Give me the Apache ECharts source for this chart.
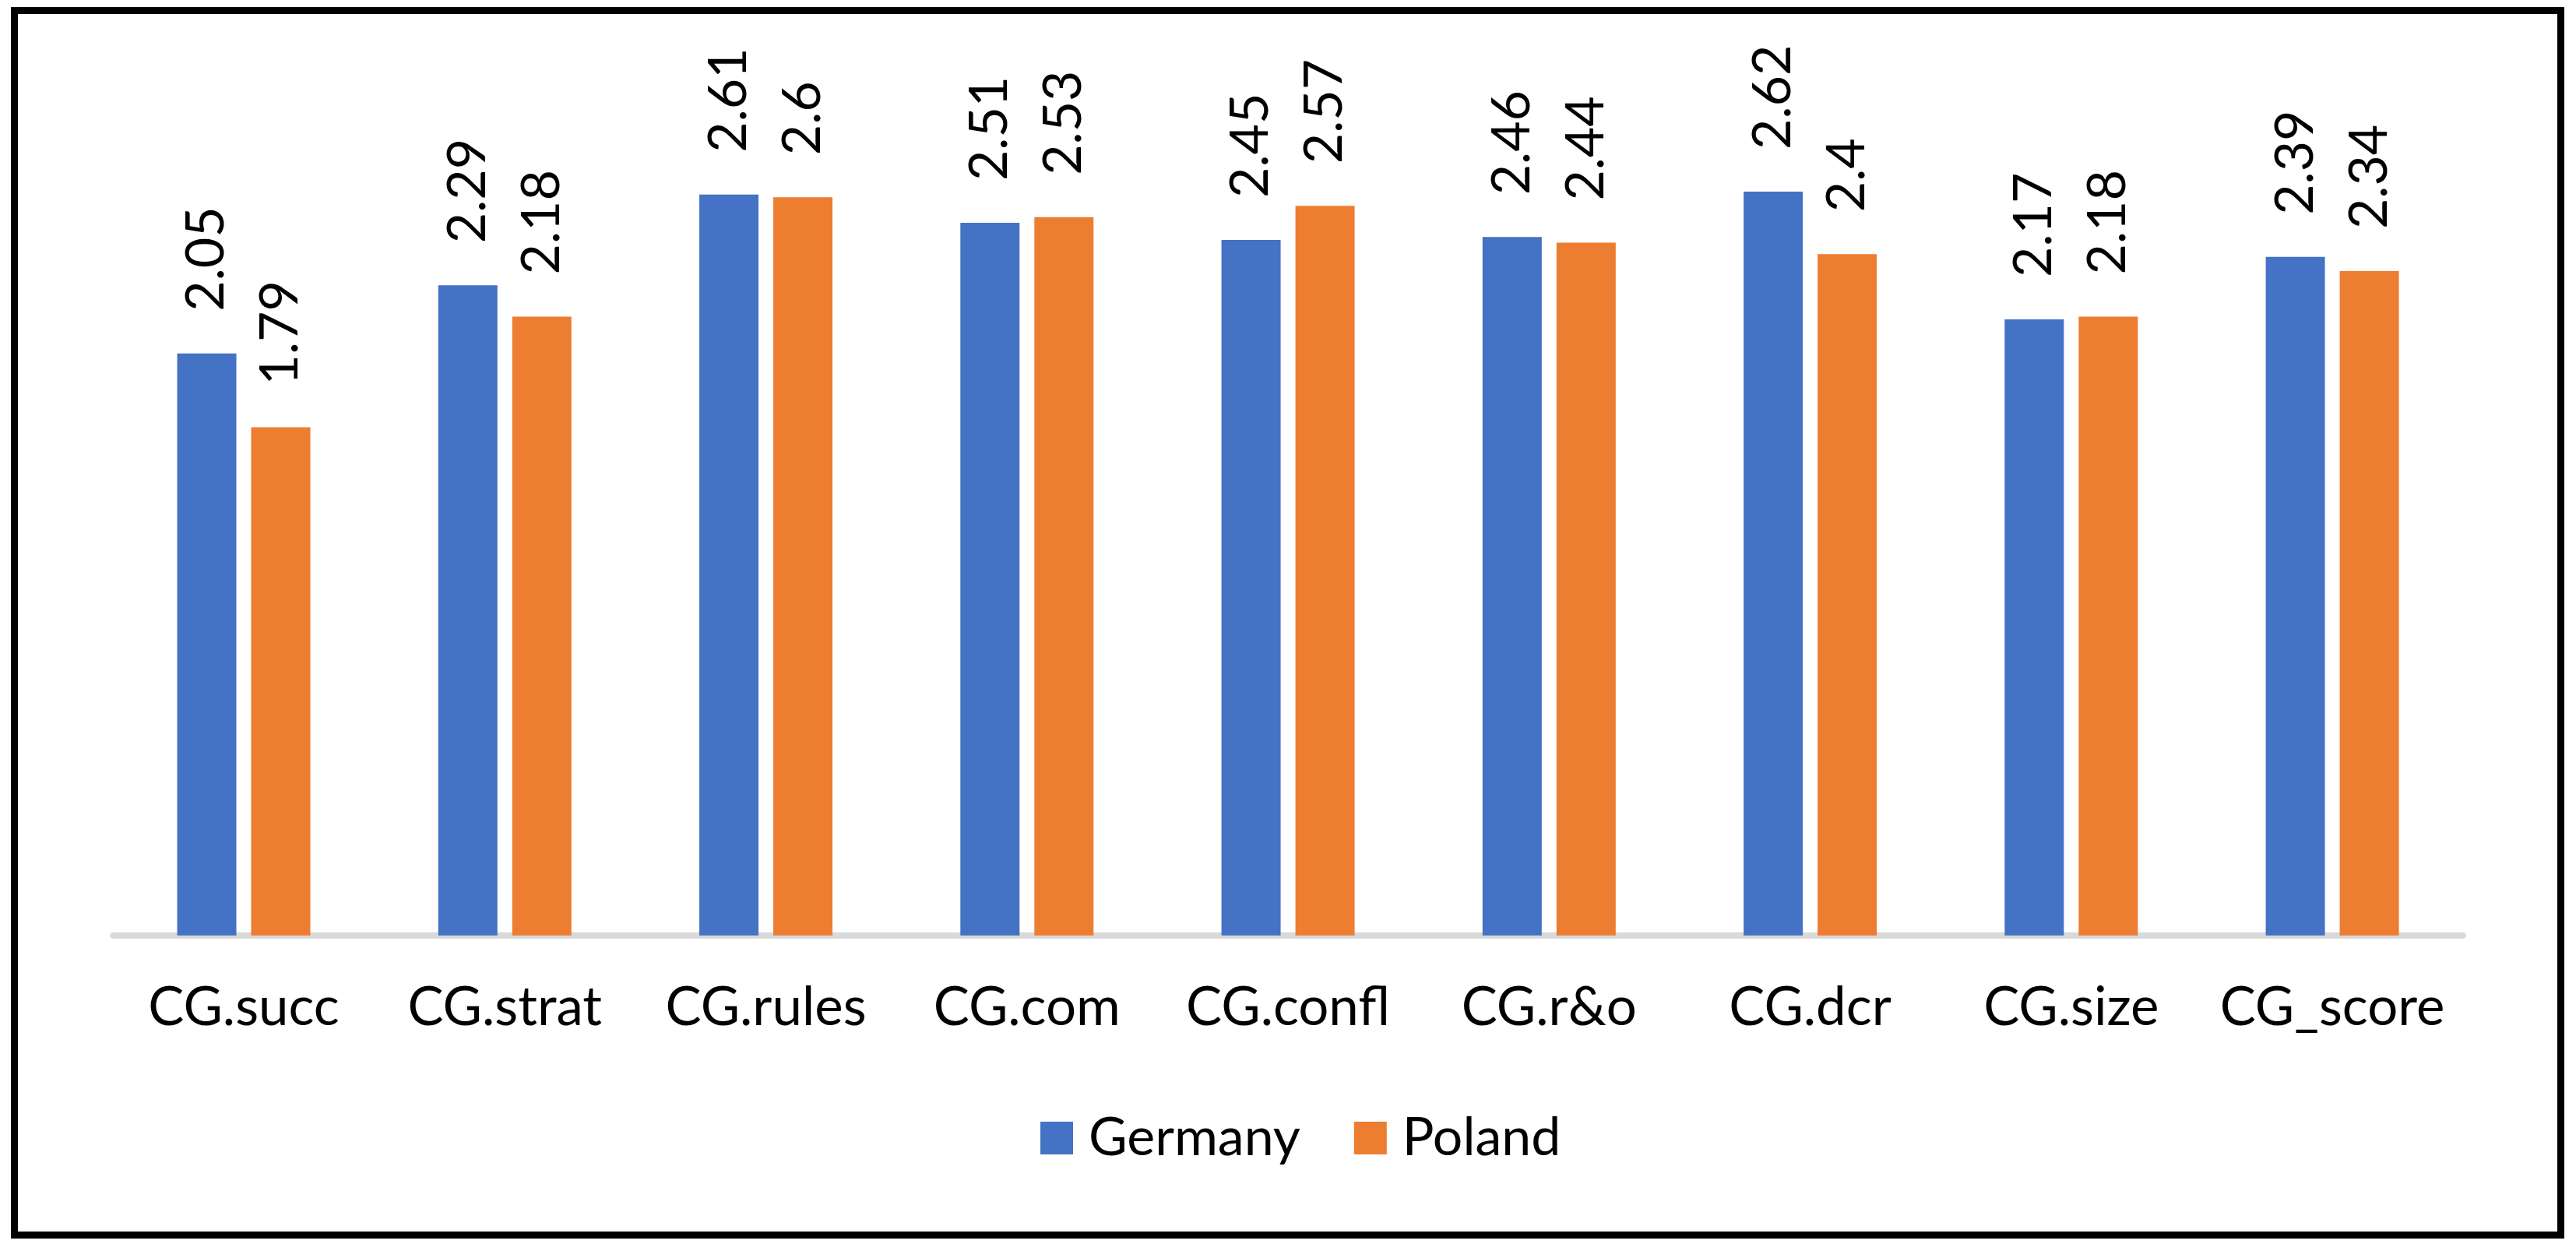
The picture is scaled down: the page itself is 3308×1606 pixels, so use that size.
<!DOCTYPE html>
<html>
<head>
<meta charset="utf-8">
<script src="https://cdn.jsdelivr.net/npm/echarts@6/dist/echarts.min.js"></script>
<style>
html,body{margin:0;padding:0;background:#fff;}
#chart{width:3308px;height:1606px;}
</style>
</head>
<body>
<div id="chart"></div>
<script>
const categories = ['CG.succ','CG.strat','CG.rules','CG.com','CG.confl','CG.r&o','CG.dcr','CG.size','CG_score'];
const germany = [2.05, 2.29, 2.61, 2.51, 2.45, 2.46, 2.62, 2.17, 2.39];
const poland  = [1.79, 2.18, 2.6, 2.53, 2.57, 2.44, 2.4, 2.18, 2.34];
const seriesNames = ['Germany','Poland'];

const FONT = 'Lato';
const chart = echarts.init(document.getElementById('chart'), null, {renderer:'canvas'});
const labelCfg = {
  show: true,
  position: 'top',
  rotate: 90,
  align: 'left',
  verticalAlign: 'middle',
  distance: 54,
  color: '#000',
  fontFamily: FONT,
  fontSize: 68
};
chart.setOption({
  animation: false,
  backgroundColor: '#fff',
  color: ['#4472C4','#ED7D31'],
  graphic: [{
    type: 'rect',
    shape: {x: 18.5, y: 13.5, width: 3270, height: 1572},
    style: {fill: 'none', stroke: '#000', lineWidth: 9},
    z: 100
  }],
  grid: {left: 145.4, right: 145.3, top: 107.5, bottom: 405, containLabel: false},
  legend: {
    data: seriesNames,
    left: 1331,
    top: 1422,
    itemWidth: 42,
    itemHeight: 42,
    itemGap: 69,
    icon: 'rect',
    textStyle: {color:'#000', fontFamily: FONT, fontSize: 68, padding: [0,0,0,15]}
  },
  xAxis: {
    type: 'category',
    data: categories,
    offset: 4,
    axisLine: {show: true, lineStyle: {color:'#D9D9D9', width: 8}},
    axisTick: {show: false},
    axisLabel: {color:'#000', fontFamily: FONT, fontSize: 69, margin: 54, interval: 0}
  },
  yAxis: {
    type: 'value',
    min: 0, max: 3, interval: 0.5,
    show: false,
    splitLine: {show: false}
  },
  series: [
    {name: seriesNames[0], type: 'bar', data: germany, barWidth: 76, barGap: '25%', label: labelCfg},
    {name: seriesNames[1], type: 'bar', data: poland, barWidth: 76, barGap: '25%', label: labelCfg}
  ]
});
</script>
</body>
</html>
